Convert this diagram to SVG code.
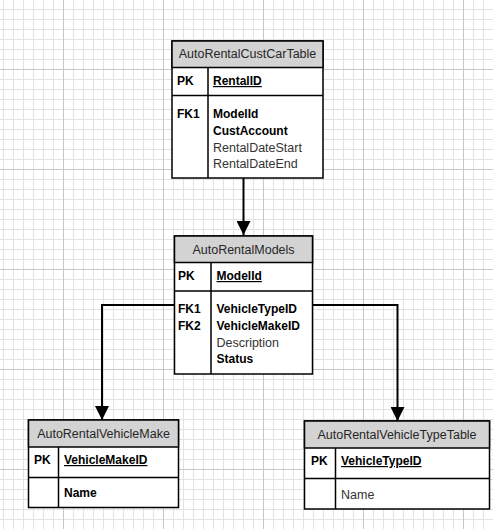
<svg xmlns="http://www.w3.org/2000/svg" width="493" height="529" viewBox="0 0 493 529">
<defs>
<pattern id="minor" patternUnits="userSpaceOnUse" x="3" y="9" width="10" height="10">
<path d="M0.5 0V10M0 0.5H10" stroke="#e2e2e2" stroke-width="1" fill="none"/>
</pattern>
<pattern id="major" patternUnits="userSpaceOnUse" x="63" y="69" width="100" height="100">
<path d="M0.5 0V100M0 0.5H100" stroke="#c8c8c8" stroke-width="1" fill="none"/>
</pattern>
<marker id="arr" markerWidth="14" markerHeight="14" refX="14" refY="7" orient="auto" markerUnits="userSpaceOnUse">
<path d="M0 0L14 7L0 14Z" fill="#000"/>
</marker>
<style>
.box{fill:#fff;stroke:#000;stroke-width:1.5}
.hdr{fill:#d3d3d3;stroke:#000;stroke-width:1.5}
.sep{stroke:#000;stroke-width:1.5;fill:none}
.ht{font-family:"Liberation Sans",Arial,sans-serif;font-size:12.5px;fill:#262626;text-anchor:middle}
.b{font-family:"Liberation Sans",Arial,sans-serif;font-size:12px;font-weight:bold;fill:#000}
.n{font-family:"Liberation Sans",Arial,sans-serif;font-size:12.5px;fill:#333}
.u{text-decoration:underline}
.con{stroke:#000;stroke-width:2;fill:none}
</style>
</defs>
<rect width="493" height="529" fill="#fff"/>
<rect width="493" height="529" fill="url(#minor)"/>
<rect width="493" height="529" fill="url(#major)"/>

<g id="connectors">
<path class="con" d="M243.5 178V235" marker-end="url(#arr)"/>
<path class="con" d="M174 305H102V420" marker-end="url(#arr)"/>
<path class="con" d="M312 305H397.5V421" marker-end="url(#arr)"/>
</g>

<g id="AutoRentalCustCarTable">
<rect class="box" x="172" y="41" width="151" height="137"/>
<rect class="hdr" x="172" y="41" width="151" height="26.5"/>
<path class="sep" d="M172 95.5H323M208 67.5V178"/>
<text class="ht" x="247.5" y="58">AutoRentalCustCarTable</text>
<text class="b" x="177" y="85">PK</text>
<text class="b u" x="213" y="85">RentalID</text>
<text class="b" x="177" y="118">FK1</text>
<text class="b" x="213" y="118">ModelId</text>
<text class="b" x="213" y="135">CustAccount</text>
<text class="n" x="213" y="151.5">RentalDateStart</text>
<text class="n" x="213" y="168">RentalDateEnd</text>
</g>

<g id="AutoRentalModels">
<rect class="box" x="174.5" y="236" width="138" height="138"/>
<rect class="hdr" x="174.5" y="236" width="138" height="26.5"/>
<path class="sep" d="M174.5 291H312.5M211 262.5V374"/>
<text class="ht" x="243.5" y="253.5">AutoRentalModels</text>
<text class="b" x="178" y="280">PK</text>
<text class="b u" x="216.5" y="280">ModelId</text>
<text class="b" x="178" y="313">FK1</text>
<text class="b" x="178" y="330">FK2</text>
<text class="b" x="216.5" y="313">VehicleTypeID</text>
<text class="b" x="216.5" y="330">VehicleMakeID</text>
<text class="n" x="216.5" y="346.5">Description</text>
<text class="b" x="216.5" y="363">Status</text>
</g>

<g id="AutoRentalVehicleMake">
<rect class="box" x="28.5" y="420" width="150" height="87.5"/>
<rect class="hdr" x="28.5" y="420" width="150" height="27"/>
<path class="sep" d="M28.5 477.5H178.5M58.5 447V507.5"/>
<text class="ht" x="103.5" y="437.5">AutoRentalVehicleMake</text>
<text class="b" x="34" y="464">PK</text>
<text class="b u" x="64" y="464">VehicleMakeID</text>
<text class="b" x="64" y="496.5">Name</text>
</g>

<g id="AutoRentalVehicleTypeTable">
<rect class="box" x="304.5" y="421" width="185" height="88"/>
<rect class="hdr" x="304.5" y="421" width="185" height="27"/>
<path class="sep" d="M304.5 478.5H489.5M335.5 448V509"/>
<text class="ht" x="397" y="438.5">AutoRentalVehicleTypeTable</text>
<text class="b" x="311" y="465">PK</text>
<text class="b u" x="341" y="465">VehicleTypeID</text>
<text class="n" x="341" y="498.5">Name</text>
</g>
</svg>
